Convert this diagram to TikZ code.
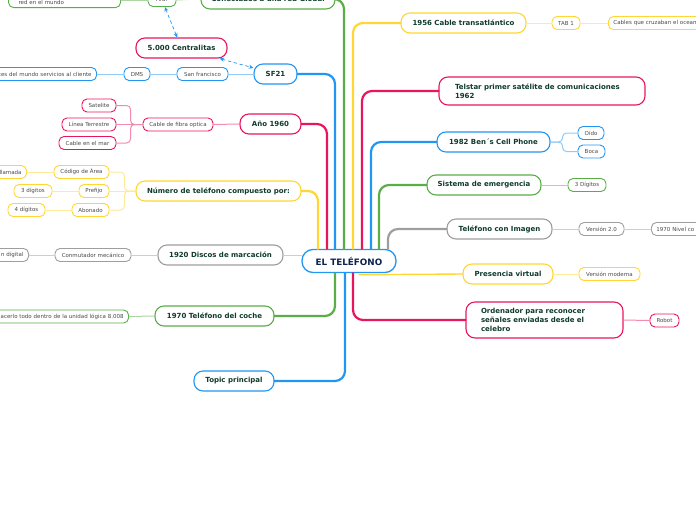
\documentclass[tikz,border=0pt]{standalone}
\usepackage{fontspec}
\setmainfont{DejaVu Sans}
\usetikzlibrary{arrows.meta}
\definecolor{yel}{HTML}{FFD633}
\definecolor{pnk}{HTML}{E8175D}
\definecolor{blu}{HTML}{2196F3}
\definecolor{grn}{HTML}{5AAE48}
\definecolor{gry}{HTML}{9E9E9E}
\definecolor{ink}{HTML}{0E3B2C}
\definecolor{navy}{HTML}{0B2350}
\definecolor{subink}{HTML}{4A4A4A}

\begin{document}
\begin{tikzpicture}[x=1pt,y=-1pt,>={Stealth[length=1.6mm,width=1.4mm]},line cap=round,
  root/.style={draw=blu,line width=1.3pt,fill=white,rounded corners=11pt,minimum width=94pt,minimum height=23pt,text=navy,font=\fontsize{8.8}{10}\selectfont\bfseries},
  topic/.style={draw=#1,line width=1.1pt,fill=white,rounded corners=9pt,minimum height=20pt,inner xsep=0pt,text=ink,font=\fontsize{7}{9}\selectfont\bfseries},
  sub/.style={draw=#1,line width=0.9pt,fill=white,rounded corners=5pt,minimum height=13pt,inner xsep=0pt,text=subink,font=\fontsize{5.5}{6.5}\selectfont},
  trunk/.style={draw=#1,line width=2.2pt,rounded corners=10pt},
  twig/.style={draw=#1!50,line width=1pt,rounded corners=4pt},
  link/.style={blu,dashed,line width=0.7pt,<->}]
\useasboundingbox (0,0) rectangle (696,520);
\clip (0,0) rectangle (696,520);

\node[root] (tel) at (349,261) {EL TELÉFONO};

% right side
\node[topic=yel,minimum width=125pt] (c1956) at (463.5,23) {1956 Cable transatlántico};
\node[sub=yel,minimum width=28pt] (tab) at (566,23) {TAB 1};
\node[sub=yel,anchor=west,inner xsep=5pt,text width=120pt,align=left] (cables) at (608,23) {Cables que cruzaban el ocean};
\node[topic=pnk,minimum width=206pt,minimum height=28pt,text width=174pt,align=left] (telstar) at (542,91) {Telstar primer satélite de comunicaciones\\1962};
\node[topic=blu,minimum width=113pt] (ben) at (493.5,142) {1982 Ben´s Cell Phone};
\node[sub=blu,minimum width=26pt] (oido) at (591,133) {Oído};
\node[sub=blu,minimum width=27pt] (boca) at (591.5,151.5) {Boca};
\node[topic=grn,minimum width=114pt] (sis) at (484,185) {Sistema de emergencia};
\node[sub=grn,minimum width=38pt] (dig) at (587,185) {3 Dígitos};
\node[topic=gry,minimum width=105pt] (img) at (499.5,229) {Teléfono con Imagen};
\node[sub=gry,minimum width=45pt] (ver) at (601.5,229) {Versión 2.0};
\node[sub=gry,anchor=west,inner xsep=5pt,text width=60pt,align=left] (nivel) at (651,229) {1970 Nivel co};
\node[topic=yel,minimum width=90pt] (pres) at (508,274) {Presencia virtual};
\node[sub=yel,minimum width=61pt] (vmod) at (609.5,274) {Versión moderna};
\node[topic=pnk,minimum width=157pt,minimum height=36pt,text width=127pt,align=left] (orden) at (544.5,320) {Ordenador para reconocer\\señales enviadas desde el\\celebro};
\node[sub=pnk,minimum width=29pt] (robot) at (664.5,320.5) {Robot};

% left side
\node[topic=grn,minimum width=134pt] (glob) at (268,-1) {Conectados a una red Global};
\node[sub=grn,minimum width=28pt] (arar) at (162,0) {Arar};
\node[sub=grn,anchor=south east,inner xsep=10pt,text width=92pt,align=left,text height=14pt] (red) at (121,8) {red en el mundo};
\node[topic=pnk,minimum width=91pt] (cent) at (181.5,48) {5.000 Centralitas};
\node[topic=blu,minimum width=43pt] (sf) at (275.5,74) {SF21};
\node[sub=blu,minimum width=51pt] (sfr) at (202.5,74) {San francisco};
\node[sub=blu,minimum width=26pt] (dms) at (137,74) {DMS};
\node[sub=blu,anchor=east,inner xsep=5pt,text width=150pt,align=right] (serv) at (97,74) {ces del mundo servicios al cliente};
\node[topic=pnk,minimum width=61pt] (a1960) at (270.5,124) {Año 1960};
\node[sub=pnk,minimum width=70pt] (fibra) at (178,124.5) {Cable de fibra optica};
\node[sub=pnk,minimum width=34pt] (sat) at (99,105.5) {Satelite};
\node[sub=pnk,minimum width=54pt] (lin) at (89,124.5) {Línea Terrestre};
\node[sub=pnk,minimum width=57pt] (mar) at (87.5,143) {Cable en el mar};
\node[topic=yel,minimum width=165pt] (num) at (218.5,191) {Número de teléfono compuesto por:};
\node[sub=yel,minimum width=55pt] (area) at (81.5,172) {Código de Área};
\node[sub=yel,minimum width=30pt] (pref) at (94,191) {Prefijo};
\node[sub=yel,minimum width=37pt] (abon) at (90.5,210) {Abonado};
\node[sub=yel,anchor=east,inner xsep=5pt,text width=60pt,align=right] (llam) at (27,172) {llamada};
\node[sub=yel,minimum width=38pt] (d3) at (33,191) {3 dígitos};
\node[sub=yel,minimum width=37pt] (d4) at (26.5,210) {4 dígitos};
\node[topic=gry,minimum width=125pt] (d1920) at (220.5,255) {1920 Discos de marcación};
\node[sub=gry,minimum width=76pt] (conm) at (93,255) {Conmutador mecánico};
\node[sub=gry,anchor=east,inner xsep=5pt,text width=60pt,align=right] (cdig) at (29,255) {n digital};
\node[topic=grn,minimum width=119pt] (c1970) at (214.5,316) {1970 Teléfono del coche};
\node[sub=grn,anchor=east,inner xsep=5pt,text width=180pt,align=right] (hac) at (129,316.5) {hacerlo todo dentro de la unidad lógica 8.008};
\node[topic=blu,minimum width=80pt] (topic) at (234,381) {Topic principal};

% branches
\draw[trunk=yel] ([xshift=-31pt]tel.north) |- (num.east);
\draw[trunk=pnk] ([xshift=-22pt]tel.north) |- (a1960.east);
\draw[trunk=blu] ([xshift=-14pt]tel.north) |- (sf.east);
\draw[trunk=grn] ([xshift=-5pt]tel.north) |- (glob.east);
\draw[trunk=yel] ([xshift=4pt]tel.north) |- (c1956.west);
\draw[trunk=pnk] ([xshift=13pt]tel.north) |- (telstar.west);
\draw[trunk=blu] ([xshift=22pt]tel.north) |- (ben.west);
\draw[trunk=grn] ([xshift=30pt]tel.north) |- (sis.west);
\draw[trunk=gry] ([xshift=39pt]tel.north) |- (img.west);
\draw[trunk=yel,line width=1.4pt] (pres.west) -- ([xshift=10pt,yshift=-1.6pt]tel.south);
\draw[trunk=pnk] ([xshift=4pt]tel.south) |- (orden.west);
\draw[trunk=grn] ([xshift=-14pt]tel.south) |- (c1970.east);
\draw[trunk=blu] ([xshift=-4pt]tel.south) |- (topic.east);
\draw[twig=gry] (d1920.east) -- (d1920.east -| tel.west);

\draw[twig=yel] (c1956.east) -- (tab.west);
\draw[twig=yel] (tab.east) -- (cables.west);
\draw[twig=blu] (ben.east) -- ++(12,0) |- (oido.west);
\draw[twig=blu] (ben.east) -- ++(12,0) |- (boca.west);
\draw[twig=grn] (sis.east) -- (dig.west);
\draw[twig=gry] (img.east) -- (ver.west);
\draw[twig=gry] (ver.east) -- (nivel.west);
\draw[twig=yel] (pres.east) -- (vmod.west);
\draw[twig=pnk] (orden.east) -- (robot.west);

\draw[twig=grn] (glob.west) -- (arar.east);
\draw[twig=grn] (arar.west) -- (arar.west -| red.east);
\draw[twig=blu] (sf.west) -- (sfr.east);
\draw[twig=blu] (sfr.west) -- (dms.east);
\draw[twig=blu] (dms.west) -- (serv.east);
\draw[twig=pnk] (a1960.west) -- (fibra.east);
\draw[twig=pnk] (fibra.west) -- ++(-12,0) |- (sat.east);
\draw[twig=pnk] (fibra.west) -- (lin.east);
\draw[twig=pnk] (fibra.west) -- ++(-12,0) |- (mar.east);
\draw[twig=yel] (num.west) -- ++(-11,0) |- (area.east);
\draw[twig=yel] (num.west) -- (pref.east);
\draw[twig=yel] (num.west) -- ++(-11,0) |- (abon.east);
\draw[twig=yel] (area.west) -- (llam.east);
\draw[twig=yel] (pref.west) -- (d3.east);
\draw[twig=yel] (abon.west) -- (d4.east);
\draw[twig=gry] (d1920.west) -- (conm.east);
\draw[twig=gry] (conm.west) -- (cdig.east);
\draw[twig=grn] (c1970.west) -- (hac.east);

\draw[link] (arar) -- (cent);
\draw[link] (cent) -- (sf);
\end{tikzpicture}
\end{document}
